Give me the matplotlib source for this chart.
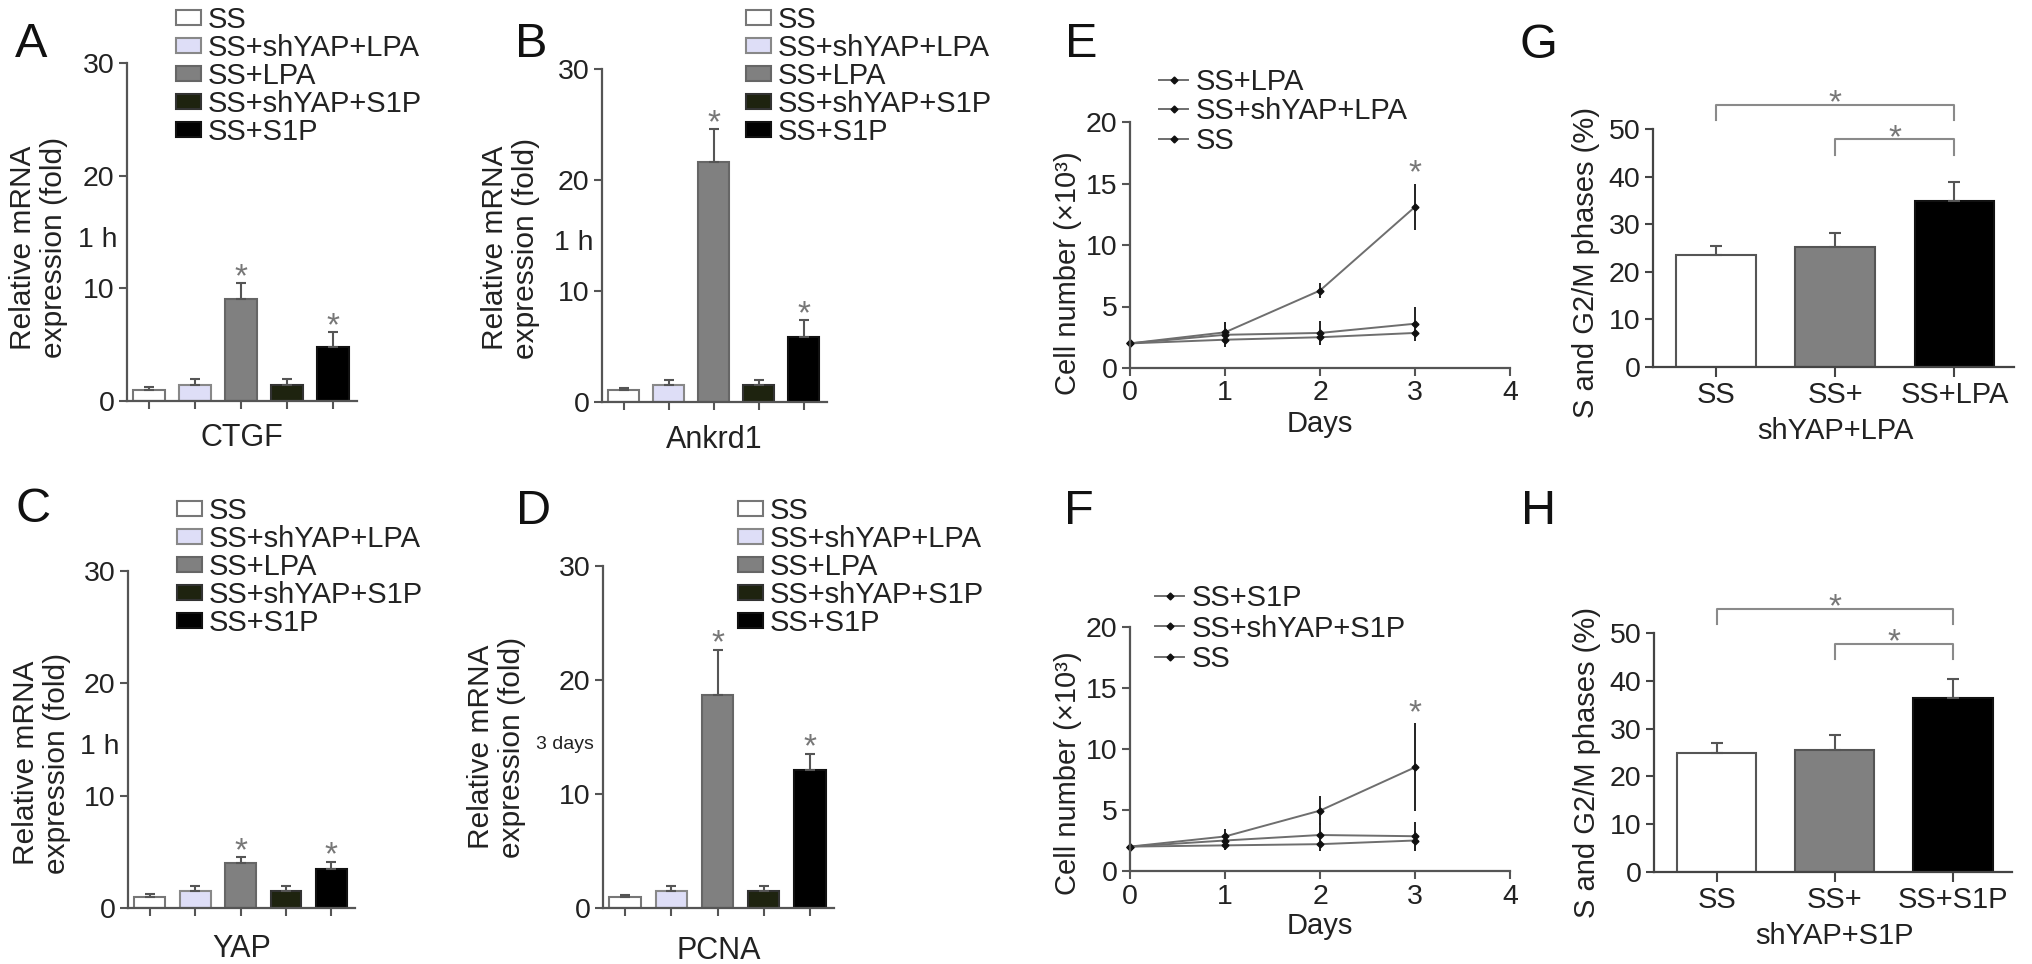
import numpy as np
import matplotlib
matplotlib.use("Agg")
import matplotlib.pyplot as plt
from matplotlib.patches import Patch
from matplotlib.lines import Line2D

plt.rcParams['font.family'] = ['Liberation Sans', 'DejaVu Sans']

W, H = 2032, 964

# --- data ---
groups = ['SS', 'SS+shYAP+LPA', 'SS+LPA', 'SS+shYAP+S1P', 'SS+S1P']
ctgf_mean = [0.98, 1.42, 9.05, 1.42, 4.82]
ctgf_err = [0.22, 0.5, 1.4, 0.5, 1.28]
ankrd1_mean = [1.05, 1.5, 21.6, 1.5, 5.9]
ankrd1_err = [0.21, 0.5, 3.0, 0.5, 1.5]
yap_mean = [1.0, 1.55, 4.0, 1.55, 3.5]
yap_err = [0.25, 0.45, 0.5, 0.45, 0.6]
pcna_mean = [0.97, 1.5, 18.66, 1.5, 12.1]
pcna_err = [0.21, 0.44, 4.0, 0.44, 1.4]
mrna_sig = [2, 4]  # bars with asterisk

days = [0, 1, 2, 3]
lpa_mean = [2.0, 2.9, 6.3, 13.1]
lpa_err = [0.1, 0.8, 0.6, 1.9]
shlpa_mean = [2.0, 2.7, 2.85, 3.6]
shlpa_err = [0.1, 1.0, 1.0, 1.4]
ss_e_mean = [2.0, 2.3, 2.5, 2.85]
ss_e_err = [0.1, 0.5, 0.6, 0.3]
s1p_mean = [2.0, 2.83, 4.95, 8.5]
s1p_err = [0.1, 0.6, 1.2, 3.6]
shs1p_mean = [2.0, 2.5, 2.95, 2.85]
shs1p_err = [0.1, 0.6, 1.0, 1.2]
ss_f_mean = [2.0, 2.1, 2.2, 2.5]
ss_f_err = [0.1, 0.4, 0.6, 0.8]

g_labels = ['SS', 'SS+\nshYAP+LPA', 'SS+LPA']
g_mean = [23.5, 25.3, 34.9]
g_err = [1.9, 2.8, 3.9]
h_labels = ['SS', 'SS+\nshYAP+S1P', 'SS+S1P']
h_mean = [24.9, 25.6, 36.5]
h_err = [2.0, 3.0, 3.8]

# --- styles ---
bar_fc = ['#ffffff', '#dedef7', '#808080', '#1e230f', '#000000']
bar_ec = ['#777777', '#888888', '#666666', '#333333', '#111111']
axc = '#555555'
txtc = '#222222'
TICK_FS = 20.5
LEG_FS = 21
STAR_FS = 24

fig = plt.figure(figsize=(W / 100, H / 100), dpi=100)


def add_ax(l, t, r, b):
    return fig.add_axes([l / W, 1 - b / H, (r - l) / W, (b - t) / H])


def style_axes(ax, color=axc):
    for s in ['top', 'right']:
        ax.spines[s].set_visible(False)
    for s in ['left', 'bottom']:
        ax.spines[s].set_color(color)
        ax.spines[s].set_linewidth(1.6)
    ax.tick_params(direction='out', length=6, width=1.5, color=color,
                   labelsize=TICK_FS, labelcolor=txtc, pad=3)


def star(ax, x, y):
    ax.annotate('*', xy=(x, y), xytext=(0, -10), textcoords='offset pixels',
                ha='center', va='center', fontsize=STAR_FS, color='#777',
                annotation_clip=False)


def letter(x, y, s):
    fig.text(x / W, 1 - y / H, s, fontsize=35, va='baseline', ha='left', color='#111')


def mrna_panel(rect, means, errs, gene, time_txt, time_fs, ylab_x, ylab_y, xlab_y, leg_xy):
    ax = add_ax(*rect)
    x = np.arange(len(means))
    ax.bar(x, means, width=0.68, color=bar_fc, edgecolor=bar_ec, linewidth=1.5,
           yerr=[np.zeros(len(errs)), errs],
           error_kw=dict(ecolor='#555', elinewidth=1.5, capsize=3.5, capthick=1.5))
    for i in mrna_sig:
        star(ax, i, means[i] + errs[i] + 1.4)
    ax.set_xlim(-0.48, 4.52)
    ax.set_ylim(0, 30)
    ax.set_yticks([0, 10, 20, 30])
    ax.set_xticks(x)
    ax.set_xticklabels([''] * len(x))
    style_axes(ax)
    ax.annotate(time_txt, xy=(0, 14.3), xycoords=ax.get_yaxis_transform(),
                xytext=(-9, 0), textcoords='offset pixels', ha='right', va='center',
                fontsize=time_fs, color=txtc)
    ax.set_ylabel('Relative mRNA\nexpression (fold)', fontsize=21.5, color=txtc,
                  linespacing=1.12)
    ax.yaxis.set_label_coords(ylab_x, ylab_y)
    ax.set_xlabel(gene, fontsize=22, color=txtc)
    ax.xaxis.set_label_coords(0.5, xlab_y)
    handles = [Patch(facecolor=fc, edgecolor=ec, linewidth=1.5) for fc, ec in zip(bar_fc, bar_ec)]
    ax.legend(handles, groups, loc='upper left',
              bbox_to_anchor=(leg_xy[0] / W, 1 - (leg_xy[1] - 17) / H),
              bbox_transform=fig.transFigure, frameon=False, fontsize=LEG_FS,
              handlelength=0.85, handleheight=0.43, handletextpad=0.25,
              labelspacing=0.0, borderpad=0, borderaxespad=0,
              labelcolor=txtc)
    return ax


mrna_panel((127, 63, 357, 401), ctgf_mean, ctgf_err, 'CTGF', '1 h', TICK_FS,
           -0.257, 0.453, -0.065, (176, 23))
mrna_panel((602, 69, 827, 402), ankrd1_mean, ankrd1_err, 'Ankrd1', '1 h', TICK_FS,
           -0.275, 0.462, -0.069, (746, 23))
mrna_panel((128, 571, 355, 908), yap_mean, yap_err, 'YAP', '1 h', TICK_FS,
           -0.253, 0.43, -0.077, (177, 514))
mrna_panel((603, 566, 834, 908), pcna_mean, pcna_err, 'PCNA', '3 days', 14,
           -0.333, 0.47, -0.082, (738, 514))


def growth_panel(rect, series, labels, ylab_y, leg_xy, pitch_sp):
    ax = add_ax(*rect)
    handles = []
    for m, e in series:
        ax.errorbar(days, m, yerr=e, color='#6e6e6e', lw=1.4, marker='D', ms=3.5,
                    mfc='#111', mec='#111', ecolor='#222', elinewidth=1.4,
                    capsize=0, clip_on=False)
        handles.append(Line2D([], [], color='#6e6e6e', lw=1.4, marker='D', ms=3.5,
                              mfc='#111', mec='#111'))
    top_m, top_e = series[0]
    star(ax, days[-1], top_m[-1] + top_e[-1] + 1.6)
    ax.set_xlim(0, 4)
    ax.set_ylim(0, 20)
    ax.set_xticks([0, 1, 2, 3, 4])
    ax.set_yticks([0, 5, 10, 15, 20])
    style_axes(ax)
    ax.set_ylabel('Cell number (×10³)', fontsize=21, color=txtc)
    ax.yaxis.set_label_coords(-0.127, ylab_y)
    ax.set_xlabel('Days', fontsize=21, color=txtc)
    ax.xaxis.set_label_coords(0.5, -0.17)
    ax.legend(handles, labels, loc='upper left',
              bbox_to_anchor=(leg_xy[0] / W, 1 - (leg_xy[1] - 17) / H),
              bbox_transform=fig.transFigure, frameon=False, fontsize=LEG_FS,
              handlelength=1.0, handletextpad=0.25, labelspacing=pitch_sp,
              borderpad=0, borderaxespad=0, labelcolor=txtc)
    return ax


growth_panel((1130, 122, 1510, 368),
             [(lpa_mean, lpa_err), (shlpa_mean, shlpa_err), (ss_e_mean, ss_e_err)],
             ['SS+LPA', 'SS+shYAP+LPA', 'SS'], 0.386, (1159, 85), 0.05)
growth_panel((1130, 627, 1510, 871),
             [(s1p_mean, s1p_err), (shs1p_mean, shs1p_err), (ss_f_mean, ss_f_err)],
             ['SS+S1P', 'SS+shYAP+S1P', 'SS'], 0.40, (1155, 601), 0.09)


def phase_panel(rect, means, errs, labels, ylab_y):
    ax = add_ax(*rect)
    x = np.arange(len(means))
    ax.bar(x, means, width=0.67, color=['#ffffff', '#808080', '#000000'],
           edgecolor=['#555', '#555', '#111'], linewidth=1.5,
           yerr=[np.zeros(len(errs)), errs],
           error_kw=dict(ecolor='#555', elinewidth=1.5, capsize=4.5, capthick=1.5))
    # significance brackets (SS vs treated, shYAP vs treated)
    for (i0, i1), yb in [((0, 2), 55.0), ((1, 2), 47.8)]:
        ax.plot([i0, i0, i1, i1], [yb - 3.2, yb, yb, yb - 3.2], color='#8a8a8a',
                lw=1.5, clip_on=False)
        star(ax, (i0 + i1) / 2, yb + 2.3)
    ax.set_xlim(-0.53, 2.5)
    ax.set_ylim(0, 50)
    ax.set_yticks([0, 10, 20, 30, 40, 50])
    ax.set_xticks(x)
    # first line as tick label, wrapped second line as its own text below
    first = [s.split('\n')[0] for s in labels]
    ax.set_xticklabels(first)
    style_axes(ax, '#444')
    ax.tick_params(axis='x', labelsize=21, length=7)
    for i, s in enumerate(labels):
        if '\n' in s:
            ax.annotate(s.split('\n')[1], xy=(i, 0), xycoords=ax.get_xaxis_transform(),
                        xytext=(0, -50), textcoords='offset pixels', ha='center',
                        va='top', fontsize=21, color=txtc)
    ax.set_ylabel('S and G2/M phases (%)', fontsize=21, color=txtc)
    ax.yaxis.set_label_coords(-0.147, ylab_y)
    return ax


phase_panel((1653, 129, 2014, 367), g_mean, g_err, g_labels, 0.44)
phase_panel((1654, 633, 2012, 872), h_mean, h_err, h_labels, 0.46)

for (lx, ly), s in zip([(15, 57), (515, 57), (15, 522), (516, 524),
                        (1065, 57), (1064, 524), (1520, 58), (1521, 524)],
                       'ABCDEFGH'):
    letter(lx, ly, s)

fig.savefig('out.png', dpi=100, facecolor='white')
